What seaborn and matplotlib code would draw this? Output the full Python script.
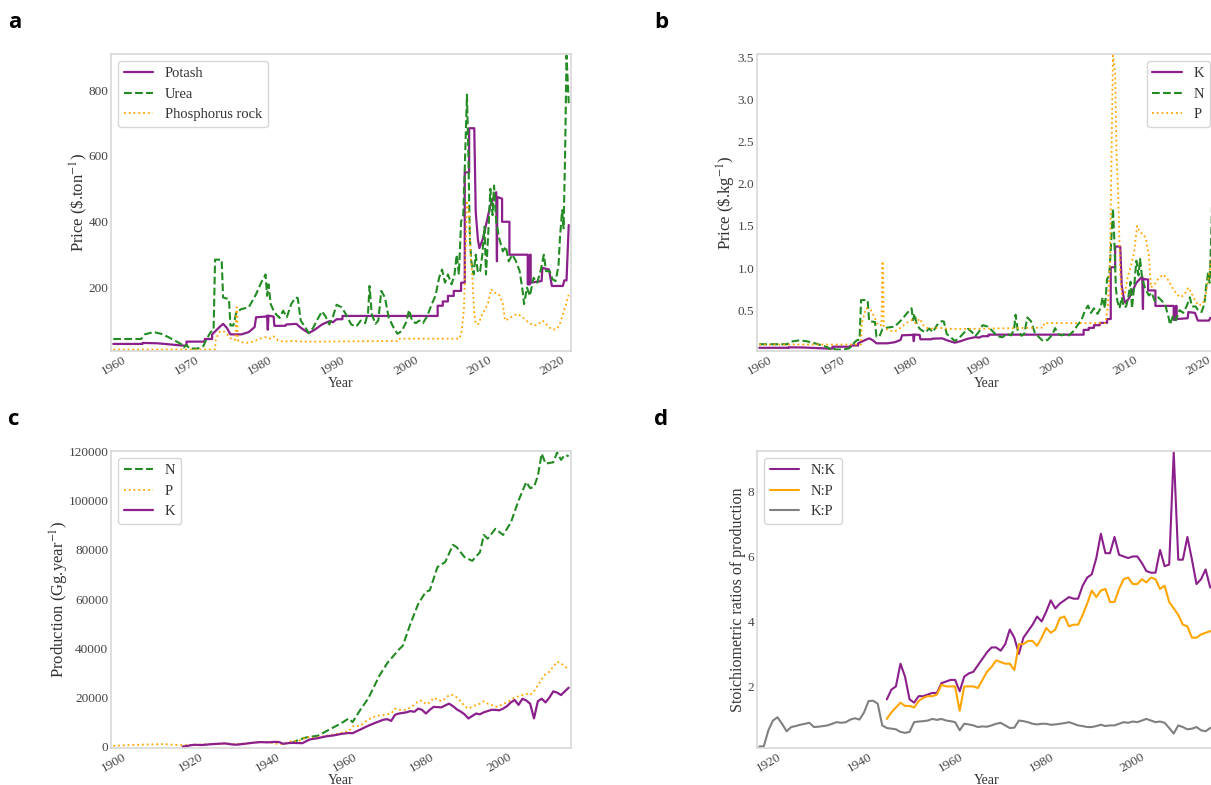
import seaborn as sns
import matplotlib.pyplot as plt
from matplotlib.ticker import MultipleLocator

# panel a: fertilizer prices, $ per ton of product
potash_yr = [1960.0, 1964.0, 1964.0, 1966.0, 1969.5, 1970.0, 1970.0, 1972.5, 1972.5, 1973.5, 1973.5,
             1974.5, 1975.0, 1975.5, 1976.0, 1977.5, 1978.5, 1979.3, 1979.5, 1980.8, 1981.0, 1981.1,
             1981.2, 1981.9, 1982.0, 1983.5, 1983.6, 1985.0, 1985.5, 1986.0, 1986.7, 1987.5, 1988.5,
             1989.5, 1990.0, 1990.5, 1991.3, 1991.3, 2004.3, 2004.3, 2005.0, 2005.0, 2005.7, 2005.7,
             2006.5, 2006.5, 2007.5, 2007.5, 2008.0, 2008.0, 2008.6, 2008.6, 2009.3, 2009.5, 2009.8,
             2010.0, 2010.5, 2011.0, 2011.5, 2012.3, 2012.4, 2012.45, 2013.1, 2013.1, 2014.1, 2014.1,
             2016.6, 2016.6, 2016.9, 2016.9, 2017.0, 2017.0, 2018.5, 2018.6, 2019.5, 2019.9, 2021.4,
             2021.6, 2021.9, 2022.2]
potash_val = [29, 29, 32, 31, 24, 24, 36, 36, 44, 44, 58,
              80, 90, 78, 58, 58, 65, 80, 110, 112, 115, 72,
              115, 112, 84, 84, 88, 90, 80, 72, 62, 72, 88,
              98, 95, 104, 104, 114, 114, 145, 145, 158, 158, 175,
              175, 190, 190, 215, 215, 550, 550, 684, 684, 430, 345,
              320, 350, 400, 450, 490, 280, 475, 470, 400, 400, 300,
              300, 210, 210, 300, 300, 215, 220, 260, 255, 205, 205,
              222, 222, 390]

urea_yr = [1960.0, 1963.8, 1964.3, 1965.5, 1966.5, 1967.5, 1968.5, 1969.3, 1969.6, 1970.0, 1970.4,
           1971.5, 1972.3, 1972.7, 1973.3, 1973.7, 1973.9, 1974.8, 1975.0, 1975.8, 1976.0, 1976.4,
           1976.8, 1977.5, 1978.5, 1979.5, 1980.2, 1980.8, 1981.0, 1981.2, 1981.5, 1982.0, 1982.7,
           1983.2, 1983.7, 1984.3, 1984.9, 1985.2, 1985.6, 1986.2, 1986.7, 1987.3, 1987.8, 1988.5,
           1989.0, 1989.5, 1990.0, 1990.5, 1991.2, 1991.8, 1992.5, 1993.2, 1993.8, 1994.4, 1994.8,
           1995.0, 1995.3, 1995.8, 1996.2, 1996.6, 1997.1, 1997.6, 1998.2, 1998.8, 1999.4, 2000.0,
           2000.4, 2000.8, 2001.3, 2001.8, 2002.3, 2002.9, 2003.5, 2004.0, 2004.5, 2004.9, 2005.3,
           2005.7, 2006.2, 2006.6, 2006.9, 2007.2, 2007.5, 2007.8, 2008.0, 2008.3, 2008.5, 2008.7,
           2008.9, 2009.2, 2009.5, 2009.8, 2010.1, 2010.4, 2010.7, 2010.9, 2011.2, 2011.5, 2011.8,
           2012.0, 2012.3, 2012.7, 2013.2, 2013.6, 2014.0, 2014.5, 2015.0, 2015.5, 2015.9, 2016.1,
           2016.5, 2016.9, 2017.4, 2017.9, 2018.4, 2018.8, 2019.1, 2019.6, 2020.0, 2020.4, 2020.8,
           2021.0, 2021.3, 2021.5, 2021.7, 2021.9, 2022.2]
urea_val = [44, 44, 58, 65, 60, 50, 38, 28, 18, 26, 15,
            15, 22, 42, 65, 70, 285, 285, 170, 165, 85, 85,
            125, 135, 140, 180, 215, 240, 175, 210, 150, 125, 108,
            130, 110, 150, 170, 168, 100, 80, 62, 78, 100, 128,
            112, 88, 112, 148, 140, 118, 88, 82, 100, 92, 125,
            205, 120, 90, 100, 190, 170, 110, 82, 60, 68, 95,
            132, 100, 92, 100, 92, 115, 150, 175, 230, 255, 215,
            240, 210, 240, 300, 240, 400, 420, 560, 786, 600, 350,
            280, 240, 300, 245, 250, 300, 385, 240, 360, 500, 420,
            510, 400, 350, 310, 325, 280, 300, 280, 250, 190, 150,
            200, 175, 230, 215, 255, 300, 250, 250, 225, 220, 265,
            350, 435, 380, 600, 905, 760]

rock_yr = [1960.0, 1973.9, 1974.0, 1974.6, 1975.2, 1975.7, 1976.2, 1976.7, 1976.8, 1976.9, 1977.0,
           1977.6, 1978.5, 1979.3, 1980.2, 1980.9, 1981.4, 1981.9, 1982.5, 1983.2, 1984.5, 1986.0,
           1988.0, 1998.8, 1998.9, 2007.3, 2007.6, 2007.9, 2008.1, 2008.3, 2008.6, 2008.8, 2009.0,
           2009.3, 2009.5, 2009.9, 2010.3, 2010.8, 2011.2, 2011.6, 2012.0, 2012.5, 2012.8, 2013.2,
           2013.5, 2014.0, 2014.6, 2015.2, 2015.8, 2016.4, 2017.0, 2017.5, 2018.0, 2018.6, 2019.0,
           2019.5, 2020.0, 2020.6, 2021.0, 2021.5, 2022.2]
rock_val = [12, 12, 45, 68, 66, 55, 42, 42, 140, 140, 40,
            34, 32, 38, 46, 50, 45, 52, 40, 36, 38, 36,
            36, 38, 45, 45, 70, 140, 300, 458, 430, 300, 250,
            120, 90, 90, 115, 135, 155, 195, 185, 182, 175, 150,
            100, 105, 115, 120, 112, 100, 90, 85, 88, 100, 92,
            80, 72, 75, 90, 125, 178]

# nutrient share of each product (panel b is price per kg of nutrient)
K_SHARE = 0.545
N_SHARE = 0.46
P_SHARE = 0.13

# panel c: world production, Gg per year
n_prod_yr = [1946, 1948, 1950, 1953, 1956, 1959, 1961, 1962, 1964, 1966, 1969, 1971, 1974, 1975,
             1977, 1979, 1981, 1982, 1984, 1986, 1988, 1989, 1991, 1993, 1995, 1996, 1997, 1999,
             2001, 2003, 2005, 2007, 2008, 2009, 2010, 2011, 2012, 2014, 2015, 2016, 2017, 2018]
n_prod = [1400, 2800, 3800, 4500, 7000, 9500, 11500, 10000, 15000, 19500, 29000, 34000, 39500, 41000,
          50000, 58000, 63000, 63500, 73000, 75000, 82000, 81000, 77000, 75500, 79000, 86000, 84500, 88500,
          86000, 91000, 100000, 107500, 105000, 105500, 110000, 119000, 115000, 115500, 119500, 116500,
          118500, 118000]

p_prod_yr = [1900, 1903, 1906, 1910, 1913, 1916, 1918, 1920, 1922, 1925, 1929, 1931, 1934, 1938,
             1940, 1942, 1944, 1945, 1946, 1948, 1950, 1952, 1955, 1958, 1960, 1961, 1962, 1964,
             1966, 1968, 1970, 1972, 1973, 1974, 1976, 1978, 1979, 1980, 1981, 1982, 1983, 1984,
             1985, 1986, 1987, 1988, 1989, 1990, 1991, 1992, 1993, 1994, 1995, 1996, 1997, 1998,
             1999, 2000, 2001, 2002, 2003, 2004, 2005, 2006, 2007, 2008, 2009, 2010, 2011, 2012,
             2013, 2014, 2015, 2016, 2017, 2018]
p_prod = [400, 600, 800, 1000, 1100, 800, 650, 800, 850, 1150, 1450, 1100, 1350, 1900,
          1850, 1300, 1100, 1750, 2200, 2300, 3900, 3600, 4400, 5300, 6000, 6200, 8300, 8500,
          11000, 12500, 12900, 13500, 15500, 15000, 15000, 17000, 18500, 18800, 17300, 18000, 19900, 19200,
          18500, 19500, 21000, 21000, 20000, 18500, 16500, 15500, 16200, 17000, 17500, 18500, 17500, 17000,
          16200, 16500, 17500, 18000, 19000, 20000, 20500, 21000, 21500, 21000, 22500, 25000, 27500, 29500,
          30500, 32500, 34500, 34000, 32500, 31800]

k_prod_yr = [1918, 1919, 1920, 1921, 1923, 1925, 1927, 1929, 1931, 1932, 1934, 1936, 1938, 1940,
             1942, 1943, 1944, 1945, 1946, 1948, 1949, 1950, 1951, 1953, 1955, 1957, 1959, 1961,
             1962, 1964, 1966, 1968, 1970, 1971, 1972, 1973, 1974, 1976, 1977, 1978, 1979, 1980,
             1981, 1982, 1983, 1985, 1986, 1987, 1988, 1989, 1990, 1991, 1992, 1993, 1994, 1995,
             1996, 1997, 1998, 1999, 2000, 2001, 2002, 2003, 2004, 2005, 2006, 2007, 2008, 2009,
             2010, 2011, 2012, 2013, 2014, 2015, 2016, 2017, 2018]
k_prod = [100, 300, 600, 800, 700, 1000, 1200, 1350, 900, 850, 1200, 1600, 1900, 1800,
          2000, 1900, 1200, 1400, 1600, 1500, 1450, 2300, 3000, 3500, 4200, 4600, 5200, 5600,
          5500, 7000, 8500, 9800, 11000, 11200, 10500, 13000, 13500, 14000, 14500, 14200, 15500, 15000,
          13500, 15000, 16200, 16000, 16800, 17500, 16500, 15200, 14300, 13200, 11500, 12500, 13500, 13200,
          14000, 14500, 15000, 15000, 14800, 15500, 16500, 18000, 19000, 17000, 19500, 18800, 17500, 11500,
          18500, 19500, 18000, 20000, 22500, 22000, 21000, 22500, 24000]

# panel d: stoichiometric ratios of production
nk_yr = list(range(1946, 2019))
nk_ratio = [1.6, 1.9, 2.0, 2.7, 2.3, 1.6, 1.5, 1.7, 1.7, 1.75,
            1.8, 1.8, 2.1, 2.15, 2.2, 2.2, 1.85, 2.3, 2.4, 2.45,
            2.65, 2.85, 3.05, 3.2, 3.2, 3.1, 3.3, 3.75, 3.5, 3.0,
            3.5, 3.7, 3.9, 4.15, 4.0, 4.3, 4.65, 4.4, 4.55, 4.65,
            4.75, 4.7, 4.7, 5.1, 5.35, 5.45, 5.95, 6.7, 6.1, 6.1,
            6.6, 6.05, 6.0, 5.95, 6.0, 6.0, 5.8, 5.55, 5.5, 5.5,
            6.2, 5.7, 5.75, 9.2, 5.9, 5.9, 6.6, 5.9, 5.15, 5.3,
            5.6, 5.05, 5.0]
np_ratio = [1.0, 1.2, 1.35, 1.5, 1.4, 1.4, 1.35, 1.55, 1.65, 1.7,
            1.7, 1.75, 2.05, 2.0, 2.0, 2.0, 1.25, 2.0, 2.0, 2.0,
            1.95, 2.2, 2.45, 2.6, 2.8, 2.75, 2.7, 2.7, 2.5, 3.3,
            3.3, 3.4, 3.4, 3.25, 3.5, 3.8, 3.65, 3.75, 4.1, 4.15,
            3.85, 3.9, 3.9, 4.2, 4.55, 4.95, 4.75, 4.95, 5.0, 4.6,
            4.6, 5.0, 5.3, 5.35, 5.15, 5.15, 5.3, 5.2, 5.35, 5.3,
            5.0, 5.1, 4.6, 4.4, 4.2, 3.9, 3.85, 3.5, 3.5, 3.6,
            3.65, 3.7, 3.7]
kp_yr = list(range(1918, 2019))
kp_ratio = [0.15, 0.16, 0.65, 0.95, 1.05, 0.85, 0.62, 0.75, 0.78, 0.82,
            0.85, 0.88, 0.75, 0.76, 0.78, 0.8, 0.85, 0.9, 0.88, 0.9,
            0.98, 1.02, 0.98, 1.2, 1.55, 1.56, 1.47, 0.8, 0.72, 0.7,
            0.68, 0.6, 0.57, 0.6, 0.9, 0.92, 0.93, 0.95, 1.0, 0.97,
            1.0, 0.95, 0.93, 0.9, 0.65, 0.85, 0.83, 0.8, 0.75, 0.77,
            0.76, 0.8, 0.85, 0.88, 0.8, 0.72, 0.73, 0.95, 0.93, 0.9,
            0.85, 0.83, 0.85, 0.85, 0.82, 0.83, 0.85, 0.87, 0.9, 0.85,
            0.8, 0.78, 0.75, 0.75, 0.78, 0.82, 0.78, 0.8, 0.8, 0.85,
            0.9, 0.88, 0.92, 0.9, 0.95, 1.0, 0.95, 0.9, 0.92, 0.88,
            0.72, 0.55, 0.8, 0.75, 0.68, 0.7, 0.75, 0.65, 0.62, 0.72,
            0.72]

PURPLE = '#8b1f8b'
GREEN = '#238b23'
ORANGE = '#ffa500'
GREY = '#808080'

sns.set_style('white')
plt.rcParams['font.family'] = ['Liberation Serif', 'DejaVu Serif']
plt.rcParams['mathtext.fontset'] = 'stix'
plt.rcParams['text.color'] = '#333333'
plt.rcParams['axes.labelcolor'] = '#333333'
plt.rcParams['xtick.color'] = '#444444'
plt.rcParams['ytick.color'] = '#444444'

fig = plt.figure(figsize=(12.11, 7.85), dpi=100)
W, H = 460 / 1211, 297 / 785
ax_a = fig.add_axes([111 / 1211, 1 - 351 / 785, W, H])
ax_b = fig.add_axes([757 / 1211, 1 - 351 / 785, W, H])
ax_c = fig.add_axes([111 / 1211, 1 - 748 / 785, W, H])
ax_d = fig.add_axes([757 / 1211, 1 - 748 / 785, W, H])


def line(ax, x, y, color, ls, label, lw=1.5):
    sns.lineplot(x=x, y=y, ax=ax, color=color, linestyle=ls, label=label,
                 linewidth=lw, estimator=None, sort=False)


# a
line(ax_a, potash_yr, potash_val, PURPLE, '-', 'Potash', 1.6)
line(ax_a, urea_yr, urea_val, GREEN, '--', 'Urea')
line(ax_a, rock_yr, rock_val, ORANGE, ':', 'Phosphorus rock', 1.3)
ax_a.set_ylabel(r'Price (\$.ton$^{-1}$)', fontsize=12)
ax_a.yaxis.set_label_coords(-0.046, 0.5)

# b
line(ax_b, potash_yr, [v / 1000 / K_SHARE for v in potash_val], PURPLE, '-', 'K', 1.6)
line(ax_b, urea_yr, [v / 1000 / N_SHARE for v in urea_val], GREEN, '--', 'N')
line(ax_b, rock_yr, [v / 1000 / P_SHARE for v in rock_val], ORANGE, ':', 'P', 1.3)
ax_b.set_ylabel(r'Price (\$.kg$^{-1}$)', fontsize=12)
ax_b.yaxis.set_label_coords(-0.041, 0.5)

# c
line(ax_c, n_prod_yr, n_prod, GREEN, '--', 'N')
line(ax_c, p_prod_yr, p_prod, ORANGE, ':', 'P', 1.3)
line(ax_c, k_prod_yr, k_prod, PURPLE, '-', 'K', 1.6)
ax_c.set_ylabel(r'Production (Gg.year$^{-1}$)', fontsize=12)
ax_c.yaxis.set_label_coords(-0.087, 0.5)

# d
line(ax_d, nk_yr, nk_ratio, PURPLE, '-', 'N:K')
line(ax_d, nk_yr, np_ratio, ORANGE, '-', 'N:P')
line(ax_d, kp_yr, kp_ratio, GREY, '-', 'K:P')
ax_d.set_ylabel('Stoichiometric ratios of production', fontsize=11.5)
ax_d.yaxis.set_label_coords(-0.024, 0.5)

for ax, step in [(ax_a, 10), (ax_b, 10), (ax_c, 20), (ax_d, 20)]:
    ax.margins(x=0.005, y=0.005)
    ax.xaxis.set_major_locator(MultipleLocator(step))
    ax.set_xlabel('Year', fontsize=10)
    ax.xaxis.set_label_coords(0.5, -0.088)
    ax.tick_params(axis='both', length=0, pad=2, labelsize=9.5)
    ax.tick_params(axis='x', labelrotation=30)
    for s in ax.spines.values():
        s.set_color('#d4d4d4')
        s.set_linewidth(1.1)

ax_a.legend(loc='upper left', fontsize=10.5)
ax_b.legend(loc='upper right', fontsize=10.5)
ax_c.legend(loc='upper left', fontsize=10.5)
ax_d.legend(loc='upper left', fontsize=10.5)

for x, y, letter in [(8, 28, 'a'), (654, 28, 'b'), (8, 425, 'c'), (654, 425, 'd')]:
    fig.text(x / 1211, 1 - y / 785, letter, fontsize=16, fontweight='bold',
             family='Open Sans', color='black', ha='left', va='baseline')

fig.savefig('out.png', dpi=100)
